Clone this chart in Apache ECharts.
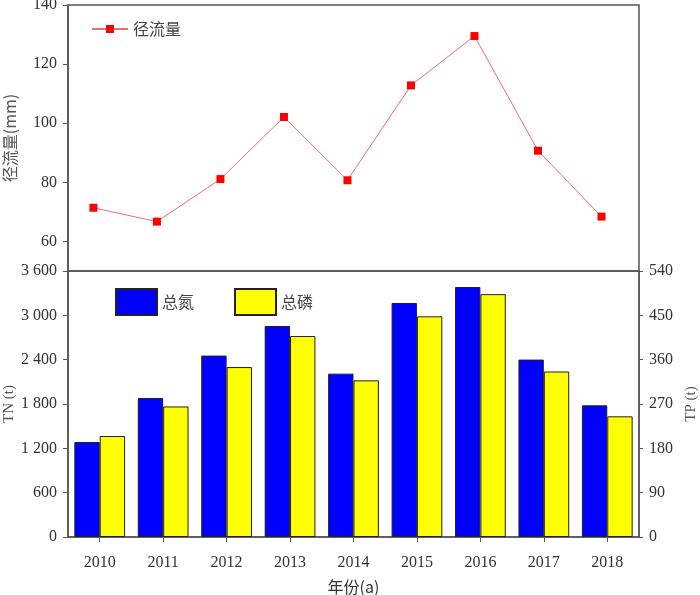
<!DOCTYPE html>
<html>
<head>
<meta charset="utf-8">
<script src="https://cdn.jsdelivr.net/npm/echarts@6/dist/echarts.min.js"></script>
<style>
  html, body { margin: 0; padding: 0; background: #fff; }
  #chart { width: 700px; height: 595px; }
</style>
</head>
<body>
<div id="chart"></div>
<script>
// 年份
const years = ['2010', '2011', '2012', '2013', '2014', '2015', '2016', '2017', '2018'];
// 径流量 (mm)
const runoff = [71.4, 66.7, 81.1, 102.1, 80.7, 112.8, 129.5, 90.7, 68.4];
// 总氮 TN (t)
const tn = [1286, 1881, 2455, 2856, 2211, 3167, 3383, 2401, 1782];
// 总磷 TP (t)
const tp = [205, 265, 345, 408, 318, 448, 493, 336, 245];
// 径流量轴刻度
const runoffTicks = [60, 80, 100, 120, 140];

const serif = 'Liberation Serif';
const cjk = 'Noto Sans CJK SC';
const axisColor = '#555';
const textColor = '#333';

const chart = echarts.init(document.getElementById('chart'));

const option = {
    backgroundColor: '#fff',
    animation: false,
    grid: [
        { left: 68, top: 5, width: 571, height: 266, outerBoundsMode: 'none', show: true, borderColor: axisColor, borderWidth: 1.5 },
        { left: 68, top: 271, width: 571, height: 266, outerBoundsMode: 'none', show: true, borderColor: axisColor, borderWidth: 1.5 }
    ],
    legend: [
        {
            data: ['径流量'],
            left: 86,
            top: 16,
            itemWidth: 36,
            itemHeight: 10,
            textStyle: { fontFamily: cjk, fontSize: 16, color: '#444' }
        },
        {
            data: ['总氮', '总磷'],
            left: 110,
            top: 283,
            icon: 'rect',
            itemWidth: 41,
            itemHeight: 26,
            itemGap: 40,
            textStyle: { fontFamily: cjk, fontSize: 16, color: '#444' }
        }
    ],
    xAxis: [
        {
            gridIndex: 0,
            type: 'value',
            min: 2009.6,
            max: 2018.59,
            show: false
        },
        {
            gridIndex: 1,
            type: 'category',
            data: years,
            name: '年份(a)',
            nameLocation: 'middle',
            nameGap: 42,
            nameMoveOverlap: false,
            nameTextStyle: { fontFamily: cjk, fontSize: 16, color: textColor },
            axisLine: { show: true, lineStyle: { color: axisColor, width: 1.5 } },
            axisTick: { show: true, alignWithLabel: true, length: 5, lineStyle: { color: axisColor } },
            axisLabel: { margin: 18, fontFamily: serif, fontSize: 16, color: textColor },
            splitLine: { show: false }
        }
    ],
    yAxis: [
        {
            gridIndex: 0,
            type: 'value',
            min: 50,
            max: 140,
            name: '径流量(mm)',
            nameLocation: 'middle',
            nameGap: 50,
            nameMoveOverlap: false,
            nameTextStyle: { fontFamily: cjk, fontSize: 16, color: '#555' },
            axisLine: { show: true, lineStyle: { color: axisColor, width: 1.5 } },
            axisTick: { show: true, length: 5, customValues: runoffTicks, lineStyle: { color: axisColor } },
            axisLabel: { margin: 11, customValues: runoffTicks, fontFamily: serif, fontSize: 16, color: textColor },
            splitLine: { show: false }
        },
        {
            gridIndex: 1,
            type: 'value',
            position: 'left',
            min: 0,
            max: 3600,
            interval: 600,
            name: 'TN (t)',
            nameLocation: 'middle',
            nameGap: 51,
            nameMoveOverlap: false,
            nameTextStyle: { fontFamily: serif, fontSize: 15, color: '#555' },
            axisLine: { show: true, lineStyle: { color: axisColor, width: 1.5 } },
            axisTick: { show: true, length: 5, lineStyle: { color: axisColor } },
            axisLabel: {
                margin: 11,
                fontFamily: serif,
                fontSize: 16,
                color: textColor,
                formatter: v => v >= 1000 ? Math.floor(v / 1000) + ' ' + String(v % 1000).padStart(3, '0') : String(v)
            },
            splitLine: { show: false }
        },
        {
            gridIndex: 1,
            type: 'value',
            position: 'right',
            min: 0,
            max: 540,
            interval: 90,
            name: 'TP (t)',
            nameLocation: 'middle',
            nameGap: 45,
            nameMoveOverlap: false,
            nameTextStyle: { fontFamily: serif, fontSize: 15, color: '#555' },
            axisLine: { show: true, lineStyle: { color: axisColor, width: 1.5 } },
            axisTick: { show: true, length: 4, lineStyle: { color: axisColor } },
            axisLabel: { margin: 10, fontFamily: serif, fontSize: 16, color: textColor },
            splitLine: { show: false }
        }
    ],
    series: [
        {
            name: '径流量',
            type: 'line',
            xAxisIndex: 0,
            yAxisIndex: 0,
            data: years.map((y, i) => [Number(y), runoff[i]]),
            symbol: 'rect',
            symbolSize: 8,
            itemStyle: { color: '#ff0000' },
            lineStyle: { color: '#e87070', width: 1 }
        },
        {
            name: '总氮',
            type: 'bar',
            xAxisIndex: 1,
            yAxisIndex: 1,
            data: tn,
            barWidth: '40%',
            barGap: '0%',
            itemStyle: { color: '#0000ff', borderColor: '#222', borderWidth: 1 }
        },
        {
            name: '总磷',
            type: 'bar',
            xAxisIndex: 1,
            yAxisIndex: 2,
            data: tp,
            barWidth: '40%',
            barGap: '0%',
            itemStyle: { color: '#ffff00', borderColor: '#222', borderWidth: 1 }
        }
    ]
};

chart.setOption(option);
window.addEventListener('resize', () => chart.resize());
</script>
</body>
</html>
